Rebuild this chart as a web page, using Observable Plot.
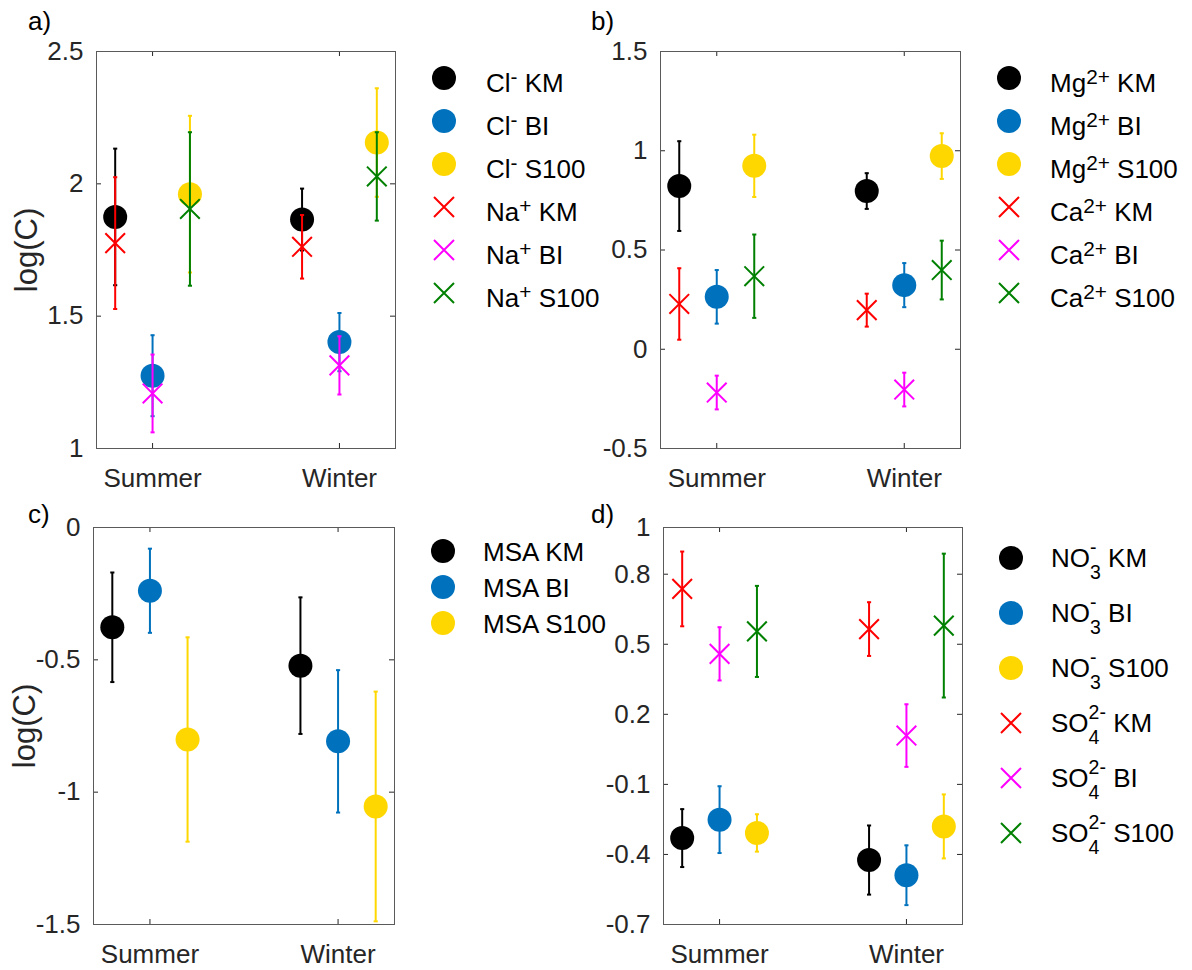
<!DOCTYPE html>
<html>
<head>
<meta charset="utf-8">
<script src="https://cdn.jsdelivr.net/npm/d3@7"></script>
<script src="https://cdn.jsdelivr.net/npm/@observablehq/plot@0.6"></script>
<style>
  body { margin: 0; background: #fff; font-family: "Liberation Sans", Arial, Helvetica, sans-serif; }
  #root { position: relative; width: 1192px; height: 970px; overflow: hidden; background: #fff; }
  .panel { position: absolute; }
  .plab { position: absolute; font-size: 26px; line-height: 1; color: #000; }
  .leg-m { position: absolute; }
  .leg-t { position: absolute; font-size: 26px; line-height: 1; white-space: nowrap; color: #000; }
  .sup { position: relative; font-size: 0.8em; top: -0.38em; }
  .ss { display: inline-grid; }
  .ss > span { grid-area: 1 / 1; font-size: 0.75em; line-height: 1; position: relative; }
  .ss > .sp { top: -13px; }
  .ss > .sb { top: 12px; }
</style>
</head>
<body>
<div id="root"></div>
<script>
// ---------- data ----------
const seasons = ["Summer", "Winter"];
const seasonPos = [1, 2];
const sites = ["KM", "BI", "S100"];
const siteDodge = [-0.2, 0, 0.2];
const circleColors = ["#000000", "#0072BD", "#FFD700"];
const crossColors = ["#FF0000", "#FF00FF", "#008000"];

// rows: KM, BI, S100 ; columns: Summer, Winter
const clMean = [[1.875, 1.865], [1.275, 1.402], [1.961, 2.156]];
const clErr  = [[0.258, 0.117], [0.153, 0.110], [0.296, 0.205]];
const naMean = [[1.776, 1.762], [1.208, 1.314], [1.905, 2.028]];
const naErr  = [[0.249, 0.120], [0.147, 0.110], [0.290, 0.167]];

const mgMean = [[0.822, 0.797], [0.264, 0.323], [0.924, 0.973]];
const mgErr  = [[0.226, 0.090], [0.135, 0.111], [0.157, 0.115]];
const caMean = [[0.228, 0.197], [-0.218, -0.203], [0.368, 0.399]];
const caErr  = [[0.180, 0.083], [0.085, 0.085], [0.210, 0.148]];

const msaMean = [[-0.377, -0.522], [-0.239, -0.808], [-0.801, -1.054]];
const msaErr  = [[0.207, 0.258], [0.159, 0.269], [0.386, 0.434]];

const no3Mean = [[-0.330, -0.424], [-0.251, -0.489], [-0.308, -0.280]];
const no3Err  = [[0.124, 0.148], [0.143, 0.128], [0.080, 0.137]];
const so4Mean = [[0.737, 0.565], [0.459, 0.109], [0.555, 0.580]];
const so4Err  = [[0.160, 0.115], [0.114, 0.134], [0.195, 0.308]];

const yTicksA = [1, 1.5, 2, 2.5];
const yTicksB = [-0.5, 0, 0.5, 1, 1.5];
const yTicksC = [-1.5, -1, -0.5, 0];
const yTicksD = [-0.7, -0.4, -0.1, 0.2, 0.5, 0.8, 1];

const panelLabels = ["a)", "b)", "c)", "d)"];
const yLabel = "log(C)";

// ---------- drawing ----------
const root = document.getElementById("root");
const FONT = "'Liberation Sans', Arial, Helvetica, sans-serif";
const AX = "#262626";
const CAP = 0.011;

function seriesMarks(g) {
  return sites.flatMap((site, i) => {
    const color = g.marker === "circle" ? circleColors[i] : crossColors[i];
    const rows = seasons.map((s, j) => ({
      x: seasonPos[j] + siteDodge[i],
      y: g.mean[i][j],
      lo: g.mean[i][j] - g.err[i][j],
      hi: g.mean[i][j] + g.err[i][j]
    }));
    return [
      Plot.ruleX(rows, {x: "x", y1: "lo", y2: "hi", stroke: color, strokeWidth: 2}),
      Plot.link(rows, {x1: d => d.x - CAP, x2: d => d.x + CAP, y1: "lo", y2: "lo", stroke: color, strokeWidth: 2}),
      Plot.link(rows, {x1: d => d.x - CAP, x2: d => d.x + CAP, y1: "hi", y2: "hi", stroke: color, strokeWidth: 2}),
      g.marker === "circle"
        ? Plot.dot(rows, {x: "x", y: "y", r: 12, fill: color, stroke: "none"})
        : Plot.dot(rows, {x: "x", y: "y", r: 9, symbol: "times", stroke: color, strokeWidth: 2, fill: "none"})
    ];
  });
}

function panel(p) {
  const boxW = p.width - p.ml - p.mr;
  const boxH = p.height - p.mt - p.mb;
  const marks = [
    Plot.axisX(seasonPos, {anchor: "bottom", tickSize: 0, tickPadding: 20, tickFormat: d => seasons[d - 1], label: null, fontSize: 26, fill: AX}),
    Plot.axisY(p.yTicks, {anchor: "left", tickSize: 0, tickPadding: 13, tickFormat: d => String(d), label: null, fontSize: 26, fill: AX}),
    Plot.tickY(p.yTicks, {y: d => d, insetRight: boxW - 5, stroke: AX}),
    Plot.tickY(p.yTicks, {y: d => d, insetLeft: boxW - 5, stroke: AX}),
    Plot.tickX(seasonPos, {x: d => d, insetTop: boxH - 5, stroke: AX}),
    Plot.tickX(seasonPos, {x: d => d, insetBottom: boxH - 5, stroke: AX}),
    ...p.groups.flatMap(seriesMarks),
    Plot.frame({stroke: "#5a5a5a", strokeWidth: 1})
  ];
  if (p.ylabel) {
    marks.push(Plot.text([p.ylabel], {frameAnchor: "left", textAnchor: "middle", lineAnchor: "middle",
      dx: p.ylabelX - (p.left + p.ml), rotate: -90, fontSize: 31, fill: AX, text: d => d}));
  }
  const svg = Plot.plot({
    width: p.width, height: p.height,
    marginTop: p.mt, marginRight: p.mr, marginBottom: p.mb, marginLeft: p.ml,
    style: {fontFamily: FONT, fontSize: "26px", color: AX, background: "transparent", overflow: "visible"},
    x: {domain: [0.7, 2.3]},
    y: {domain: p.yDomain},
    marks
  });
  const wrap = document.createElement("div");
  wrap.className = "panel";
  wrap.style.left = p.left + "px";
  wrap.style.top = p.top + "px";
  wrap.appendChild(svg);
  root.appendChild(wrap);

  const lab = document.createElement("div");
  lab.className = "plab";
  lab.textContent = p.label;
  lab.style.left = p.labelX + "px";
  lab.style.top = p.labelY + "px";
  root.appendChild(lab);
}

function ionHtml(g) {
  if (g.sub) {
    return `${g.ion}<span class="ss"><span class="sp">${g.charge}</span><span class="sb">${g.sub}</span></span>`;
  }
  if (g.charge) return `${g.ion}<span class="sup">${g.charge}</span>`;
  return g.ion;
}

function legend(L) {
  let k = 0;
  L.groups.forEach(g => {
    sites.forEach((site, i) => {
      const color = g.marker === "circle" ? circleColors[i] : crossColors[i];
      const my = L.rows[k++];
      const ns = "http://www.w3.org/2000/svg";
      const s = document.createElementNS(ns, "svg");
      s.setAttribute("class", "leg-m");
      s.setAttribute("width", 28); s.setAttribute("height", 28);
      s.style.left = (L.mx - 14) + "px"; s.style.top = (my - 14) + "px";
      if (g.marker === "circle") {
        const c = document.createElementNS(ns, "circle");
        c.setAttribute("cx", 14); c.setAttribute("cy", 14); c.setAttribute("r", 12);
        c.setAttribute("fill", color);
        s.appendChild(c);
      } else {
        const pth = document.createElementNS(ns, "path");
        pth.setAttribute("d", "M4,4L24,24M24,4L4,24");
        pth.setAttribute("stroke", color); pth.setAttribute("stroke-width", 2); pth.setAttribute("fill", "none");
        s.appendChild(pth);
      }
      root.appendChild(s);
      const t = document.createElement("div");
      t.className = "leg-t";
      t.innerHTML = `${ionHtml(g)} ${site}`;
      t.style.left = L.tx + "px";
      t.style.top = (my + L.shift - 12.7) + "px";
      root.appendChild(t);
    });
  });
}

const gA = [{ion: "Cl", charge: "-", marker: "circle", mean: clMean, err: clErr},
            {ion: "Na", charge: "+", marker: "times", mean: naMean, err: naErr}];
const gB = [{ion: "Mg", charge: "2+", marker: "circle", mean: mgMean, err: mgErr},
            {ion: "Ca", charge: "2+", marker: "times", mean: caMean, err: caErr}];
const gC = [{ion: "MSA", charge: "", marker: "circle", mean: msaMean, err: msaErr}];
const gD = [{ion: "NO", sub: "3", charge: "-", marker: "circle", mean: no3Mean, err: no3Err},
            {ion: "SO", sub: "4", charge: "2-", marker: "times", mean: so4Mean, err: so4Err}];

panel({left: 0, top: 0, width: 420, height: 500, ml: 96, mr: 25, mt: 51, mb: 52,
  yDomain: [1, 2.5], yTicks: yTicksA, groups: gA, ylabel: yLabel, ylabelX: 27,
  label: panelLabels[0], labelX: 28, labelY: 8});
panel({left: 560, top: 0, width: 420, height: 500, ml: 100, mr: 20, mt: 51, mb: 52,
  yDomain: [-0.5, 1.5], yTicks: yTicksB, groups: gB,
  label: panelLabels[1], labelX: 591, labelY: 8});
panel({left: 0, top: 480, width: 420, height: 490, ml: 93, mr: 26, mt: 47, mb: 46,
  yDomain: [-1.5, 0], yTicks: yTicksC, groups: gC, ylabel: yLabel, ylabelX: 25,
  label: panelLabels[2], labelX: 28, labelY: 501});
panel({left: 560, top: 480, width: 420, height: 490, ml: 103, mr: 18, mt: 47, mb: 46,
  yDomain: [-0.7, 1], yTicks: yTicksD, groups: gD,
  label: panelLabels[3], labelX: 591, labelY: 501});

legend({groups: gA, mx: 444, tx: 486, shift: 5, rows: [78, 121, 164, 207, 250, 293]});
legend({groups: gB, mx: 1009, tx: 1050, shift: 5, rows: [78, 121, 164, 207, 250, 293]});
legend({groups: gC, mx: 443, tx: 483, shift: 1, rows: [551, 587, 623]});
legend({groups: gD, mx: 1011, tx: 1051, shift: 0, rows: [558, 613, 668, 723, 778, 833]});
</script>
</body>
</html>
